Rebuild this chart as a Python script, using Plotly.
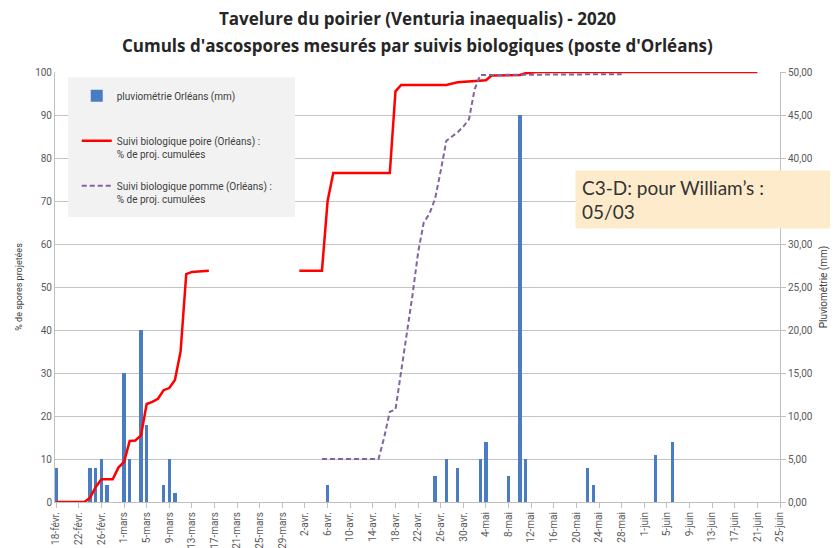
"""Tavelure du poirier 2020 - cumuls d'ascospores (poste d'Orléans)."""

import pandas as pd
import plotly.graph_objs as go

# pluviométrie Orléans (mm)
rain_dates = ["2020-02-18", "2020-02-24", "2020-02-25", "2020-02-26", "2020-02-27",
              "2020-03-01", "2020-03-02", "2020-03-04", "2020-03-05", "2020-03-08",
              "2020-03-09", "2020-03-10", "2020-04-06", "2020-04-25", "2020-04-27",
              "2020-04-29", "2020-05-03", "2020-05-04", "2020-05-08", "2020-05-10",
              "2020-05-11", "2020-05-22", "2020-05-23", "2020-06-03", "2020-06-06"]
rain_mm = [4, 4, 4, 5, 2,
           15, 5, 20, 9, 2,
           5, 1, 2, 3, 5,
           4, 5, 7, 3, 45,
           5, 4, 2, 5.5, 7]

# suivi biologique poire (% de projections cumulées) - None = pas de suivi
poire_dates = ["2020-02-18", "2020-02-22", "2020-02-23", "2020-02-24", "2020-02-25",
               "2020-02-26", "2020-02-28", "2020-02-29", "2020-03-01", "2020-03-02",
               "2020-03-03", "2020-03-04", "2020-03-05", "2020-03-06", "2020-03-07",
               "2020-03-08", "2020-03-09", "2020-03-10", "2020-03-11", "2020-03-12",
               "2020-03-13", "2020-03-16", "2020-03-24",
               "2020-04-01", "2020-04-05", "2020-04-06", "2020-04-07", "2020-04-17",
               "2020-04-18", "2020-04-19", "2020-04-27", "2020-04-29", "2020-05-02",
               "2020-05-04", "2020-05-05", "2020-05-10", "2020-05-11", "2020-05-13",
               "2020-06-21"]
poire_pct = [0, 0, 0, 1, 3.5,
             5.3, 5.3, 8, 9.3, 14.2,
             14.3, 15.5, 22.8, 23.3, 24,
             26, 26.5, 28.4, 35, 53,
             53.5, 53.8, None,
             53.8, 53.8, 70, 76.5, 76.5,
             95.5, 97, 97, 97.6, 98,
             98.1, 99.2, 99.3, 99.7, 100,
             100]

# suivi biologique pomme (% de projections cumulées)
pomme_dates = ["2020-04-05", "2020-04-15", "2020-04-16", "2020-04-17", "2020-04-18",
               "2020-04-19", "2020-04-20", "2020-04-21", "2020-04-22", "2020-04-23",
               "2020-04-24", "2020-04-25", "2020-04-26", "2020-04-27", "2020-04-28",
               "2020-04-29", "2020-04-30", "2020-05-01", "2020-05-02", "2020-05-03",
               "2020-05-28"]
pomme_pct = [10, 10, 15, 21, 21.5,
             30, 39, 48, 58, 65,
             67, 70.5, 77, 84, 85,
             86, 87.3, 89, 96, 99.3,
             99.5]

tick_labels = ["18-févr.", "22-févr.", "26-févr.", "1-mars", "5-mars", "9-mars", "13-mars",
               "17-mars", "21-mars", "25-mars", "29-mars", "2-avr.", "6-avr.", "10-avr.",
               "14-avr.", "18-avr.", "22-avr.", "26-avr.", "30-avr.", "4-mai", "8-mai",
               "12-mai", "16-mai", "20-mai", "24-mai", "28-mai", "1-juin", "5-juin",
               "9-juin", "13-juin", "17-juin", "21-juin", "25-juin"]
tick_vals = pd.date_range("2020-02-18", periods=len(tick_labels), freq="4D")

GREY = "#595959"
AXIS = "#bfbfbf"
FONT = "Roboto"

data = [
    go.Bar(x=rain_dates, y=rain_mm, name="pluviométrie Orléans (mm)<br> ",
           marker=dict(color="#4a7cc4", line=dict(width=0)),
           width=0.6 * 86400000, yaxis="y", legendgroup="a"),
    go.Scatter(x=poire_dates, y=poire_pct, mode="lines", connectgaps=False,
               name="Suivi biologique poire (Orléans) :<br>% de proj. cumulées",
               line=dict(color="#ff0000", width=2.5), yaxis="y2", legendgroup="b"),
    go.Scatter(x=pomme_dates, y=pomme_pct, mode="lines",
               name="Suivi biologique pomme (Orléans) :<br>% de proj. cumulées",
               line=dict(color="#8064a2", width=2, dash="5px,3px"), yaxis="y2", legendgroup="c"),
]

# the page body has an 8px margin: figure is 8px smaller and margins shifted
layout = dict(
    width=830, height=540,
    margin=dict(l=47, r=58, t=64, b=46, autoexpand=False),
    paper_bgcolor="white", plot_bgcolor="white",
    separators=", ",
    font=dict(family=FONT, size=10, color=GREY),
    bargap=0,
    xaxis=dict(type="date", range=["2020-02-17 19:00", "2020-06-25 00:00"],
               tickvals=tick_vals, ticktext=tick_labels, tickangle=-90,
               tickfont=dict(size=10, color=GREY), showgrid=False, automargin=False,
               showline=True, linecolor=AXIS, ticks="outside", ticklen=5, tickcolor=AXIS),
    yaxis=dict(side="right", range=[0, 50], dtick=5, tickformat=".2f",
               showgrid=True, gridcolor="#c4c4c4", zeroline=False, automargin=False,
               showline=True, linecolor=AXIS, ticks="outside", ticklen=5, tickcolor=AXIS,
               tickfont=dict(size=10, color=GREY),
               title=dict(text="Pluviométrie (mm)", font=dict(size=10, color="#404040"), standoff=8)),
    yaxis2=dict(overlaying="y", side="left", range=[0, 100], dtick=10,
                showgrid=False, zeroline=False, automargin=False,
                showline=True, linecolor=AXIS, ticks="", tickfont=dict(size=10, color=GREY),
                title=dict(text="% de spores projetées", font=dict(size=9, color="#404040"), standoff=10)),
    legend=dict(x=0.03, y=0.975, xanchor="left", yanchor="top", bgcolor="rgba(0,0,0,0)",
                font=dict(size=10, color="#404040"), traceorder="grouped",
                tracegroupgap=16, valign="top", itemwidth=30),
    shapes=[dict(type="rect", xref="paper", yref="paper", x0=0.018, x1=0.331,
                 y0=0.663, y1=0.988, fillcolor="#f2f2f2", line=dict(width=0), layer="above")],
    annotations=[
        dict(text="<b>Tavelure du poirier (Venturia inaequalis) - 2020</b>", xref="paper", yref="paper",
             x=0.5, y=1.125, xanchor="center", yanchor="middle", showarrow=False,
             font=dict(family="Open Sans", size=17, color="#262626")),
        dict(text="<b>Cumuls d'ascospores mesurés par suivis biologiques (poste d'Orléans)</b>",
             xref="paper", yref="paper", x=0.5, y=1.062, xanchor="center", yanchor="middle",
             showarrow=False, font=dict(family="Open Sans", size=17, color="#262626")),
        dict(text="C3-D: pour William’s :<br>05/03", xref="paper", yref="paper",
             x=0.7172, y=0.772, xanchor="left", yanchor="top", align="left", valign="middle",
             width=251, height=45, bgcolor="#fdebcb", borderpad=6, showarrow=False,
             font=dict(family="Lato", size=19, color="#333333")),
    ],
)

fig = go.Figure(data=data, layout=layout)
fig.write_html("out.html")
